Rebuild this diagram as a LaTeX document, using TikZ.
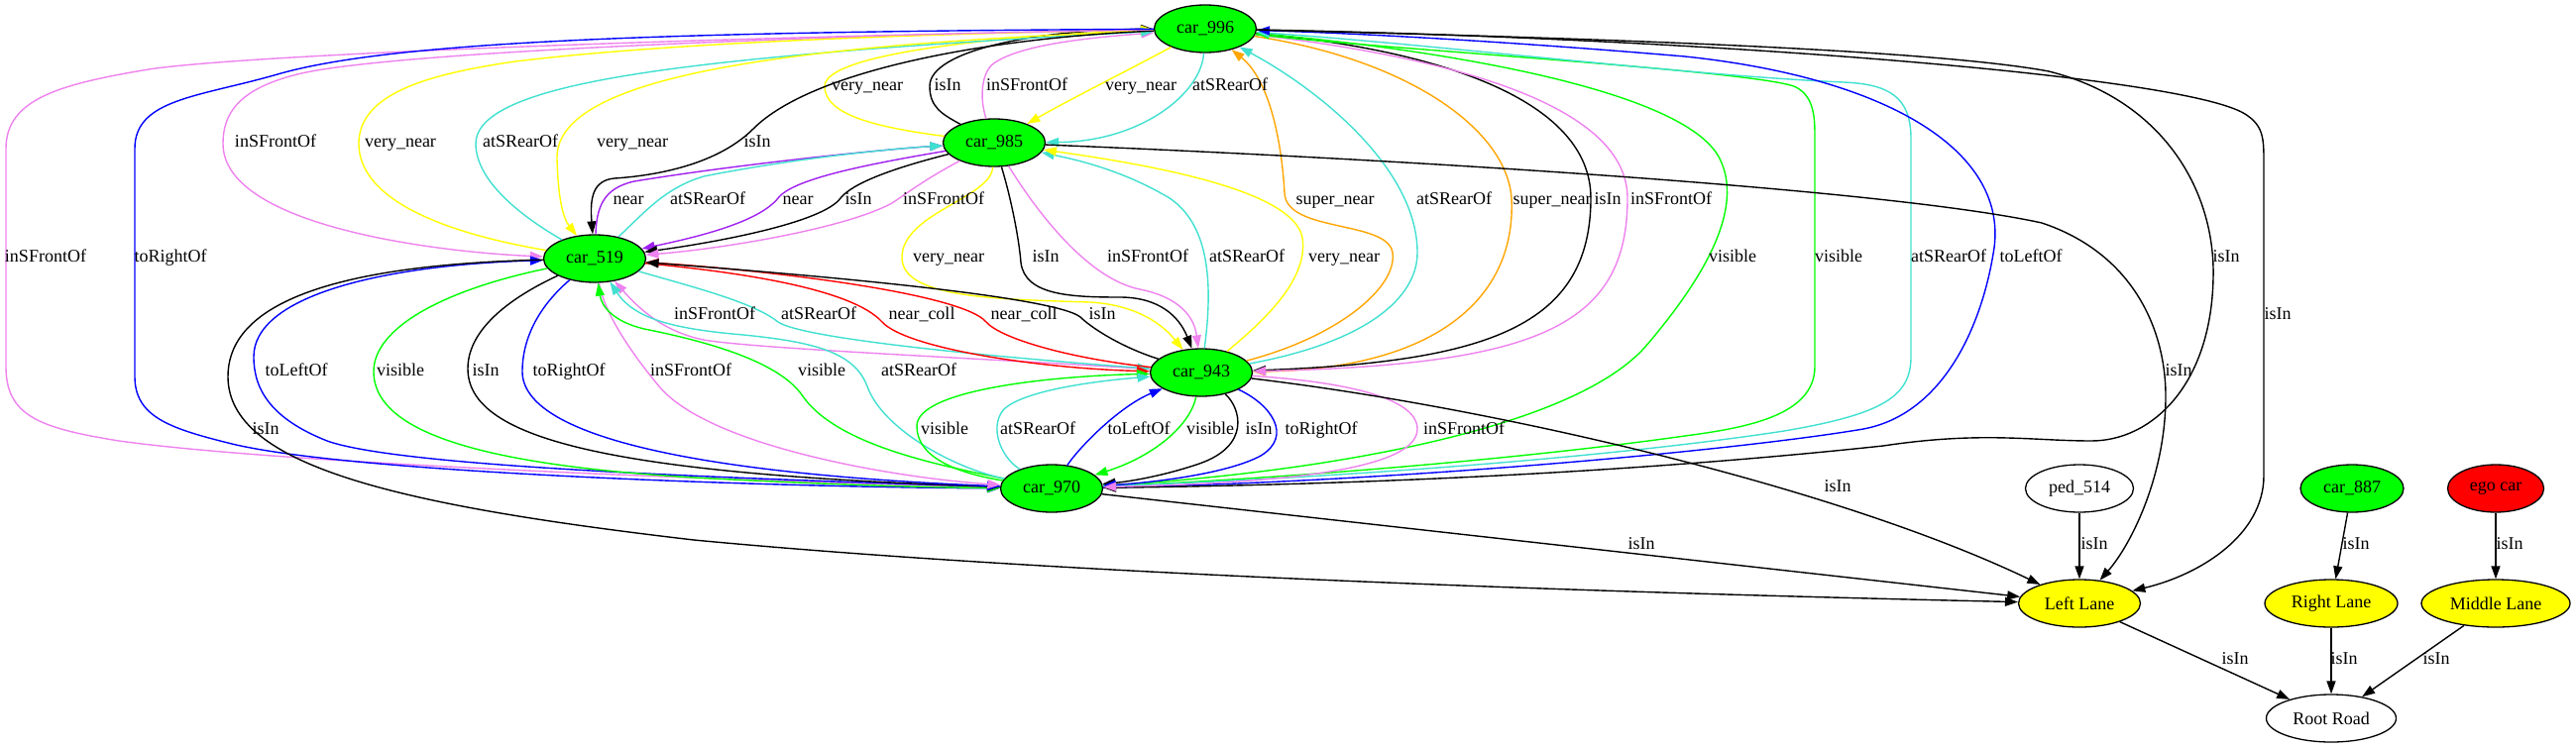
\documentclass[tikz,border=0pt]{standalone}
\usepackage{fontspec}
\setmainfont{Liberation Serif}
\usetikzlibrary{shapes.geometric,arrows.meta}
\definecolor{gvgreen}{HTML}{00FF00}
\definecolor{gvyellow}{HTML}{FFFF00}
\definecolor{gvviolet}{HTML}{EE82EE}
\definecolor{gvcyan}{HTML}{40E0D0}
\definecolor{gvpurple}{HTML}{A020F0}
\definecolor{gvorange}{HTML}{FFA500}
\definecolor{gvblue}{HTML}{0000FF}
\definecolor{gvred}{HTML}{FF0000}
\begin{document}
\begin{tikzpicture}[x=1pt,y=-1pt,font=\fontsize{18}{20}\selectfont,
  gnode/.style={ellipse,draw=black,line width=1.3pt,inner sep=0pt,minimum height=48pt,minimum width=103pt},
  car/.style={gnode,fill=gvgreen},
  lane/.style={gnode,fill=gvyellow},
  plainnode/.style={gnode,fill=white},
  lbl/.style={inner sep=0pt,text height=12pt,text depth=4pt},
  rel/.style={line width=1.4pt,-{Triangle[length=13pt,width=9pt]}},
  cY/.style={gvyellow},cK/.style={black},cV/.style={gvviolet},cC/.style={gvcyan},
  cP/.style={gvpurple},cO/.style={gvorange},cB/.style={gvblue},cR/.style={gvred},cG/.style={gvgreen}]
\useasboundingbox (0,0) rectangle (2599,755);
% nodes
\node[car] (n996) at (1216,29) {car\_996};
\node[car] (n985) at (1003,144) {car\_985};
\node[car] (n519) at (600,261) {car\_519};
\node[car] (n943) at (1212,376) {car\_943};
\node[car] (n970) at (1061,493) {car\_970};
\node[plainnode,minimum width=109pt] (ped) at (2098,493) {ped\_514};
\node[car,minimum width=104pt] (c887) at (2373,493) {car\_887};
\node[car,fill=gvred,minimum width=97pt] (ego) at (2518,493) {ego car};
\node[lane,minimum width=123pt] (LL) at (2098,609) {Left Lane};
\node[lane,minimum width=134pt] (RL) at (2352,609) {Right Lane};
\node[lane,minimum width=150pt] (ML) at (2518,609) {Middle Lane};
\node[plainnode,minimum width=131pt] (RR) at (2352,725) {Root Road};
% 996 <-> 985
\draw[rel,cY] (n985) .. controls (880,128) and (832,115) .. (832,87) .. controls (832,55) and (1000,36) .. (n996);
\draw[rel,cK] (n985) .. controls (950,115) and (938,108) .. (938,87) .. controls (938,50) and (1050,30) .. (n996);
\draw[rel,cV] (n985) .. controls (990,105) and (988,80) .. (1000,66) .. controls (1025,45) and (1100,38) .. (n996);
\draw[rel,cY] (n996) .. controls (1140,70) and (1080,100) .. (n985);
\draw[rel,cC] (n996) .. controls (1212,95) and (1150,143) .. (n985);
% 996 <-> 519
\draw[rel,cV] (n996) .. controls (900,34) and (400,50) .. (300,75) .. controls (240,90) and (225,115) .. (225,145) .. controls (225,230) and (450,255) .. (n519);
\draw[rel,cY] (n519) .. controls (430,232) and (362,195) .. (362,145) .. controls (362,95) and (430,75) .. (520,62) .. controls (700,40) and (1000,33) .. (n996);
\draw[rel,cC] (n519) .. controls (520,215) and (480,180) .. (480,145) .. controls (480,90) and (650,68) .. (870,50) .. controls (1000,40) and (1100,35) .. (n996);
\draw[rel,cY] (n996) .. controls (800,45) and (560,75) .. (562,160) .. controls (563,200) and (568,220) .. (n519);
\draw[rel,cK] (n996) .. controls (1000,38) and (820,70) .. (760,130) .. controls (720,170) and (650,178) .. (620,180) .. controls (598,182) and (595,200) .. (n519);
% 985 <-> 519
\draw[rel,cP] (n519) .. controls (602,210) and (608,190) .. (640,183) .. controls (750,165) and (900,150) .. (n985);
\draw[rel,cC] (n519) .. controls (650,215) and (670,190) .. (710,178) .. controls (800,160) and (900,150) .. (n985);
\draw[rel,cP] (n985) .. controls (880,165) and (800,180) .. (785,200) .. controls (765,225) and (700,240) .. (n519);
\draw[rel,cK] (n985) .. controls (900,170) and (860,185) .. (848,200) .. controls (830,225) and (720,245) .. (n519);
\draw[rel,cV] (n985) .. controls (935,180) and (915,195) .. (900,205) .. controls (850,232) and (720,252) .. (n519);
% 996 <-> 943
\draw[rel,cO] (n943) .. controls (1350,340) and (1410,290) .. (1405,255) .. controls (1400,222) and (1298,235) .. (1296,195) .. controls (1293,140) and (1280,80) .. (n996);
\draw[rel,cC] (n943) .. controls (1380,345) and (1430,300) .. (1430,255) .. controls (1430,170) and (1330,90) .. (n996);
\draw[rel,cO] (n996) .. controls (1420,60) and (1520,130) .. (1525,200) .. controls (1530,300) and (1450,372) .. (n943);
\draw[rel,cK] (n996) .. controls (1450,50) and (1605,100) .. (1605,200) .. controls (1605,330) and (1500,365) .. (n943);
\draw[rel,cV] (n996) .. controls (1480,60) and (1642,110) .. (1642,200) .. controls (1642,330) and (1550,368) .. (n943);
% 996 <-> 970
\draw[rel,cV] (n996) .. controls (700,38) and (250,55) .. (150,70) .. controls (60,85) and (6,100) .. (6,150) -- (6,370) .. controls (6,420) and (40,432) .. (120,445) .. controls (300,470) and (800,487) .. (n970);
\draw[rel,cB] (n996) .. controls (700,32) and (400,40) .. (280,75) .. controls (200,98) and (136,100) .. (136,150) -- (136,380) .. controls (136,420) and (170,432) .. (230,447) .. controls (350,478) and (800,492) .. (n970);
\draw[rel,cG] (n970) .. controls (1300,480) and (1580,440) .. (1660,350) .. controls (1720,280) and (1760,210) .. (1735,160) .. controls (1700,90) and (1450,50) .. (n996);
\draw[rel,cG] (n996) .. controls (1400,50) and (1780,72) .. (1812,88) .. controls (1831,98) and (1831,120) .. (1831,140) -- (1831,370) .. controls (1831,420) and (1760,432) .. (1700,440) .. controls (1500,468) and (1250,485) .. (n970);
\draw[rel,cC] (n970) .. controls (1400,480) and (1650,458) .. (1800,435) .. controls (1900,418) and (1928,400) .. (1928,360) -- (1928,140) .. controls (1928,97) and (1905,85) .. (1860,83) .. controls (1700,76) and (1450,45) .. (n996);
\draw[rel,cB] (n970) .. controls (1400,487) and (1750,455) .. (1880,433) .. controls (1960,418) and (2000,330) .. (2012,250) .. controls (2025,150) and (1900,78) .. (1700,57) .. controls (1500,40) and (1350,33) .. (n996);
\draw[rel,cK] (n996) .. controls (1600,38) and (1950,50) .. (2067,72) .. controls (2180,100) and (2235,190) .. (2233,280) .. controls (2231,390) and (2170,445) .. (2110,445) .. controls (2050,445) and (2000,435) .. (1900,450) .. controls (1600,482) and (1300,490) .. (n970);
% to Left Lane from top
\draw[rel,cK] (n996) .. controls (1700,38) and (2200,75) .. (2265,115) .. controls (2284,127) and (2284,140) .. (2284,165) -- (2284,480) .. controls (2284,540) and (2220,580) .. (LL);
\draw[rel,cK] (n985) .. controls (1400,160) and (1900,190) .. (2060,225) .. controls (2150,255) and (2185,330) .. (2185,400) .. controls (2185,480) and (2150,550) .. (LL);
% 985 <-> 943
\draw[rel,cY] (n985) .. controls (1000,200) and (910,215) .. (910,260) .. controls (910,300) and (1000,302) .. (1100,305) .. controls (1150,308) and (1175,330) .. (n943);
\draw[rel,cK] (n985) .. controls (1020,200) and (1028,240) .. (1030,265) .. controls (1034,298) and (1080,300) .. (1130,300) .. controls (1170,300) and (1190,320) .. (n943);
\draw[rel,cV] (n985) .. controls (1050,220) and (1100,282) .. (1150,292) .. controls (1190,300) and (1205,320) .. (n943);
\draw[rel,cC] (n943) .. controls (1222,300) and (1225,230) .. (1180,200) .. controls (1130,170) and (1080,160) .. (n985);
\draw[rel,cY] (n943) .. controls (1280,320) and (1320,280) .. (1314,240) .. controls (1305,190) and (1150,165) .. (n985);
% 519 <-> 943
\draw[rel,cV] (n943) .. controls (1000,362) and (760,352) .. (710,343) .. controls (670,335) and (645,312) .. (n519);
\draw[rel,cC] (n519) .. controls (700,290) and (760,305) .. (785,325) .. controls (810,342) and (1000,360) .. (n943);
\draw[rel,cR] (n519) .. controls (750,275) and (860,292) .. (890,325) .. controls (915,352) and (1050,372) .. (n943);
\draw[rel,cR] (n943) .. controls (1080,362) and (1010,342) .. (995,325) .. controls (972,298) and (800,275) .. (n519);
\draw[rel,cK] (n943) .. controls (1130,350) and (1100,330) .. (1090,320) .. controls (1062,298) and (800,276) .. (n519);
% 519 <-> 970
\draw[rel,cB] (n970) .. controls (700,482) and (400,470) .. (330,445) .. controls (272,422) and (256,392) .. (256,360) .. controls (256,300) and (380,268) .. (n519);
\draw[rel,cK] (n519) .. controls (300,268) and (230,320) .. (230,380) .. controls (230,470) and (400,510) .. (700,545) .. controls (1100,583) and (1700,600) .. (LL);
\draw[rel,cG] (n519) .. controls (450,292) and (377,330) .. (377,375) .. controls (377,440) and (500,470) .. (700,482) .. controls (850,490) and (950,492) .. (n970);
\draw[rel,cK] (n519) .. controls (520,298) and (472,330) .. (472,372) .. controls (472,440) and (600,478) .. (n970);
\draw[rel,cB] (n519) .. controls (545,308) and (527,340) .. (527,375) .. controls (527,440) and (700,478) .. (n970);
\draw[rel,cV] (n519) .. controls (610,318) and (640,360) .. (665,390) .. controls (715,450) and (900,482) .. (n970);
\draw[rel,cG] (n970) .. controls (950,470) and (845,450) .. (810,400) .. controls (785,362) and (700,342) .. (650,332) .. controls (620,325) and (607,310) .. (n519);
\draw[rel,cC] (n970) .. controls (960,472) and (890,432) .. (875,390) .. controls (862,355) and (820,345) .. (750,338) .. controls (680,332) and (640,322) .. (n519);
% 943 <-> 970
\draw[rel,cG] (n970) .. controls (950,475) and (925,455) .. (925,430) .. controls (925,395) and (1050,380) .. (n943);
\draw[rel,cC] (n970) .. controls (1010,462) and (998,432) .. (1012,414) .. controls (1030,395) and (1100,385) .. (n943);
\draw[rel,cB] (n970) .. controls (1090,450) and (1130,410) .. (n943);
\draw[rel,cG] (n943) .. controls (1200,432) and (1160,462) .. (n970);
\draw[rel,cK] (n943) .. controls (1252,412) and (1262,450) .. (1210,468) .. controls (1175,480) and (1140,486) .. (n970);
\draw[rel,cB] (n943) .. controls (1282,408) and (1305,440) .. (1272,460) .. controls (1235,480) and (1150,488) .. (n970);
\draw[rel,cV] (n943) .. controls (1350,385) and (1430,400) .. (1430,433) .. controls (1430,480) and (1250,488) .. (n970);
% lanes
\draw[rel,cK] (n943) .. controls (1500,410) and (1850,490) .. (LL);
\draw[rel,cK] (n970) -- (LL);
\draw[rel,cK] (ped) -- (LL);
\draw[rel,cK] (c887) -- (RL);
\draw[rel,cK] (ego) -- (ML);
\draw[rel,cK] (LL) -- (RR);
\draw[rel,cK] (RL) -- (RR);
\draw[rel,cK] (ML) -- (RR);
% labels
\node[lbl] (a1) at (875,87) {very\_near};
\node[lbl] (a2) at (956,87) {isIn};
\node[lbl] (a3) at (1036,87) {inSFrontOf};
\node[lbl] (a4) at (1151,87) {very\_near};
\node[lbl] (a5) at (1241,87) {atSRearOf};
\node[lbl] (b1) at (278,144) {inSFrontOf};
\node[lbl] (b2) at (404,144) {very\_near};
\node[lbl] (b3) at (525,144) {atSRearOf};
\node[lbl] (b4) at (638,144) {very\_near};
\node[lbl] (b5) at (764,144) {isIn};
\node[lbl] (c1) at (634,202) {near};
\node[lbl] (c2) at (714,202) {atSRearOf};
\node[lbl] (c3) at (805,202) {near};
\node[lbl] (c4) at (866,202) {isIn};
\node[lbl] (c5) at (952,202) {inSFrontOf};
\node[lbl] (c6) at (1347,202) {super\_near};
\node[lbl] (c7) at (1467,202) {atSRearOf};
\node[lbl] (c8) at (1566,202) {super\_near};
\node[lbl] (c9) at (1622,202) {isIn};
\node[lbl] (c10) at (1686,202) {inSFrontOf};
\node[lbl] (d1) at (46,260) {inSFrontOf};
\node[lbl] (d2) at (172,260) {toRightOf};
\node[lbl] (d3) at (957,260) {very\_near};
\node[lbl] (d4) at (1055,260) {isIn};
\node[lbl] (d5) at (1158,260) {inSFrontOf};
\node[lbl] (d6) at (1258,260) {atSRearOf};
\node[lbl] (d7) at (1356,260) {very\_near};
\node[lbl] (d8) at (1748,260) {visible};
\node[lbl] (d9) at (1855,260) {visible};
\node[lbl] (d10) at (1966,260) {atSRearOf};
\node[lbl] (d11) at (2049,260) {toLeftOf};
\node[lbl] (d12) at (2246,260) {isIn};
\node[lbl] (e1) at (721,318) {inSFrontOf};
\node[lbl] (e2) at (826,318) {atSRearOf};
\node[lbl] (e3) at (930,318) {near\_coll};
\node[lbl] (e4) at (1033,318) {near\_coll};
\node[lbl] (e5) at (1112,318) {isIn};
\node[lbl] (e6) at (2298,318) {isIn};
\node[lbl] (f1) at (299,375) {toLeftOf};
\node[lbl] (f2) at (404,375) {visible};
\node[lbl] (f3) at (490,375) {isIn};
\node[lbl] (f4) at (574,375) {toRightOf};
\node[lbl] (f5) at (697,375) {inSFrontOf};
\node[lbl] (f6) at (829,375) {visible};
\node[lbl] (f7) at (927,375) {atSRearOf};
\node[lbl] (f8) at (2198,375) {isIn};
\node[lbl] (g1) at (268,434) {isIn};
\node[lbl] (g2) at (953,434) {visible};
\node[lbl] (g3) at (1047,434) {atSRearOf};
\node[lbl] (g4) at (1149,434) {toLeftOf};
\node[lbl] (g5) at (1221,434) {visible};
\node[lbl] (g6) at (1270,434) {isIn};
\node[lbl] (g7) at (1333,434) {toRightOf};
\node[lbl] (g8) at (1477,434) {inSFrontOf};
\node[lbl] (h1) at (1854,492) {isIn};
\node[lbl] (i1) at (1656,550) {isIn};
\node[lbl] (i2) at (2113,550) {isIn};
\node[lbl] (i3) at (2377,550) {isIn};
\node[lbl] (i4) at (2532,550) {isIn};
\node[lbl] (j1) at (2255,666) {isIn};
\node[lbl] (j2) at (2365,666) {isIn};
\node[lbl] (j3) at (2458,666) {isIn};
\end{tikzpicture}
\end{document}
